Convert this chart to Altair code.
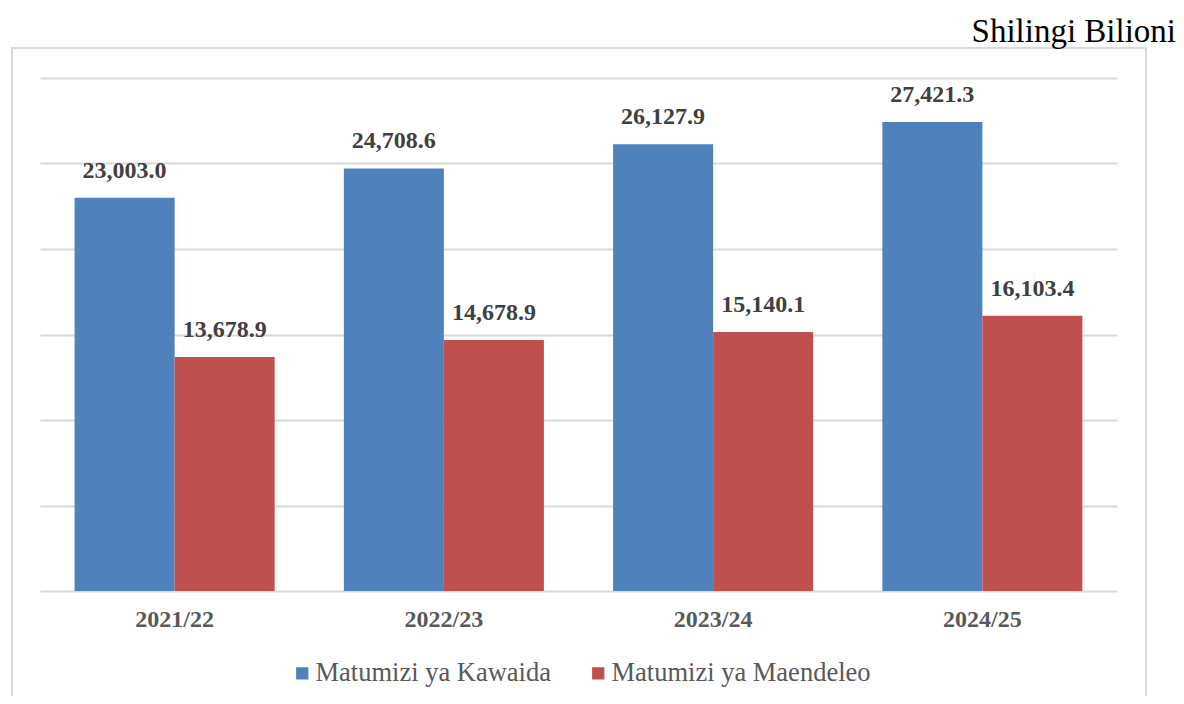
import altair as alt
import pandas as pd

years = ["2021/22", "2022/23", "2023/24", "2024/25"]
kawaida = [23003.0, 24708.6, 26127.9, 27421.3]
maendeleo = [13678.9, 14678.9, 15140.1, 16103.4]
series = ["Matumizi ya Kawaida", "Matumizi ya Maendeleo"]
colors = ["#4F81BD", "#C0504D"]
grid_values = [0, 5000, 10000, 15000, 20000, 25000, 30000]
unit_label = ["Shilingi Bilioni"]

rows = []
for i, yr in enumerate(years):
    rows.append({"year": yr, "series": series[0], "value": kawaida[i]})
    rows.append({"year": yr, "series": series[1], "value": maendeleo[i]})
df = pd.DataFrame(rows)

FONT = "Liberation Serif"

x = alt.X(
    "year:N", sort=years,
    scale=alt.Scale(paddingInner=0.257, paddingOuter=0.1285),
    axis=alt.Axis(title=None, labelAngle=0, ticks=False, domain=False, grid=False,
                  labelFont=FONT, labelFontSize=24, labelFontWeight="bold",
                  labelColor="#595959", labelPadding=16),
)
y = alt.Y(
    "value:Q", scale=alt.Scale(domain=[0, 30000], nice=False),
    axis=alt.Axis(title=None, labels=False, ticks=False, domain=False,
                  values=grid_values, gridColor="#D9D9D9", gridWidth=2),
)
xoff = alt.XOffset("series:N", sort=series,
                   scale=alt.Scale(domain=series, paddingInner=0, paddingOuter=0))
color = alt.Color(
    "series:N", sort=series,
    scale=alt.Scale(domain=series, range=colors),
    legend=alt.Legend(title=None, orient="none", direction="horizontal",
                      legendX=249, legendY=582, symbolType="square", symbolSize=150,
                      symbolStrokeWidth=0, labelFont=FONT, labelFontSize=26.5,
                      labelColor="#595959", labelLimit=400, labelOffset=0,
                      columnPadding=34),
)

border = alt.Chart(pd.DataFrame({"a": [0]})).mark_rect(
    fillOpacity=0, stroke="#D9D9D9", strokeWidth=2
).encode(x=alt.value(-28), x2=alt.value(1106), y=alt.value(-30), y2=alt.value(700))

unit = alt.Chart(pd.DataFrame({"t": unit_label})).mark_text(
    font=FONT, fontSize=33, color="#000000", align="right", baseline="alphabetic"
).encode(x=alt.value(1136), y=alt.value(-36), text="t:N")

bars = alt.Chart(df).mark_bar().encode(x=x, y=y, xOffset=xoff, color=color)

labels = alt.Chart(df).mark_text(
    font=FONT, fontSize=24, fontWeight="bold", color="#404040",
    baseline="alphabetic", dy=-20,
).encode(x=x, y=y, xOffset=xoff, text=alt.Text("value:Q", format=",.1f"))

chart = alt.layer(border, unit, bars, labels).properties(
    width=1077, height=513,
    padding={"left": 32, "top": 70, "right": 59, "bottom": 105},
    autosize=alt.AutoSizeParams(type="none"),
).configure_view(stroke=None)

chart.save("out.html", embed_options={"renderer": "svg", "actions": False})
